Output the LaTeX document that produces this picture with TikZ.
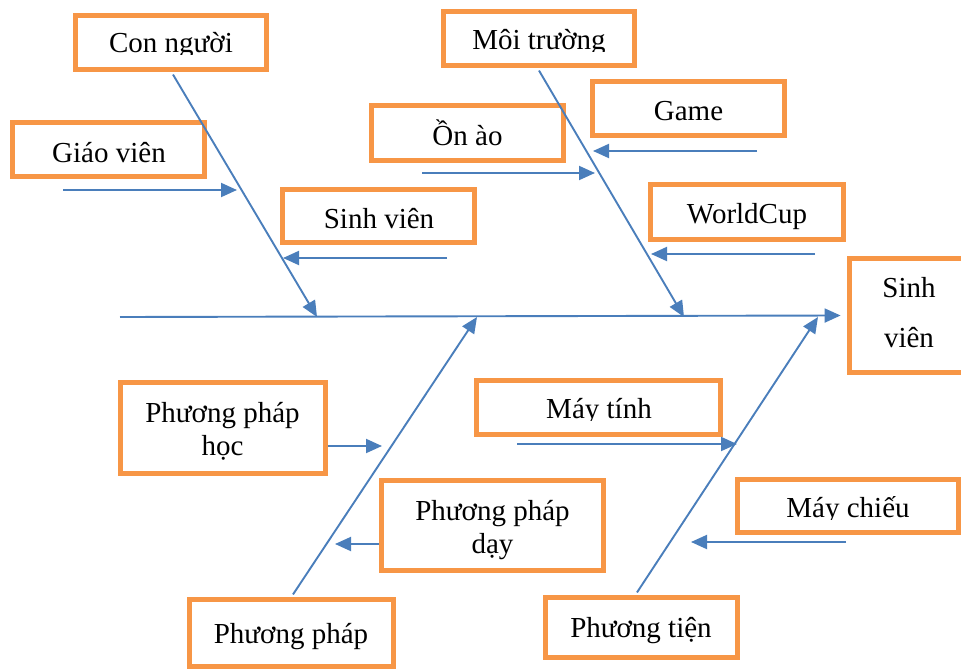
\documentclass[tikz,border=0pt]{standalone}
\usepackage{fontspec}
\setmainfont{Liberation Serif}
\usetikzlibrary{arrows.meta,calc}
\definecolor{boneblue}{RGB}{74,126,187}
\definecolor{boxorange}{RGB}{247,150,70}
\begin{document}
\begin{tikzpicture}[x=1pt,y=-1pt,
  box/.style={draw=boxorange, line width=4.8pt, inner sep=0pt},
  lbl/.style={anchor=base, inner sep=0pt, font=\fontsize{29}{33}\selectfont},
  bone/.style={draw=boneblue, line width=1.9pt, -{Triangle[length=16pt,width=14pt]}},
]
\useasboundingbox (0,0) rectangle (961,669);

% cause boxes
\node[box, minimum width=191.5pt, minimum height=54.5pt] (con)   at (171,42.5)  {};
\node[box, minimum width=192.5pt, minimum height=54.5pt] (giao)  at (108.5,149.5) {};
\node[box, minimum width=192.5pt, minimum height=53.5pt] (svsub) at (378.5,216) {};
\node[box, minimum width=192.5pt, minimum height=55.5pt] (onao)  at (467.5,133) {};
\node[box, minimum width=191.5pt, minimum height=54.5pt] (moi)   at (539,38.5)  {};
\node[box, minimum width=192.5pt, minimum height=54.5pt] (game)  at (688.5,108.5) {};
\node[box, minimum width=193.5pt, minimum height=55.5pt] (world) at (747,212) {};
\node[box, minimum width=114.5pt, minimum height=114.5pt] (head) at (906.5,315.5) {};
\node[box, minimum width=205.5pt, minimum height=91.5pt] (pphoc) at (223,428) {};
\node[box, minimum width=244.5pt, minimum height=54.5pt] (maytinh) at (598.5,407.5) {};
\node[box, minimum width=222.5pt, minimum height=90.5pt] (ppday) at (492.5,525.5) {};
\node[box, minimum width=204.5pt, minimum height=67.5pt] (pp)    at (291.5,633) {};
\node[box, minimum width=192.5pt, minimum height=60.5pt] (ptien) at (641.5,627.5) {};
\node[box, minimum width=221.5pt, minimum height=53.5pt] (maychieu) at (848,506) {};

% labels (some are cut off just below the baseline by their box)
\begin{scope}
  \clip (73,0) rectangle (269,55);
  \node[lbl] (t-con) at (171,53) {Con người};
\end{scope}
\begin{scope}
  \clip (441,0) rectangle (637,52);
  \node[lbl] (t-moi) at (539,50) {Môi trường};
\end{scope}
\begin{scope}
  \clip (474,370) rectangle (723,420);
  \node[lbl] (t-maytinh) at (599,418) {Máy tính};
\end{scope}
\begin{scope}
  \clip (735,470) rectangle (961,519.5);
  \node[lbl] (t-maychieu) at (848,517) {Máy chiếu};
\end{scope}
\node[lbl] (t-giao)  at (109,162) {Giáo viên};
\node[lbl] (t-svsub) at (379,228) {Sinh viên};
\node[lbl] (t-onao)  at (467.5,145) {Ồn ào};
\node[lbl] (t-game)  at (688.5,120) {Game};
\node[lbl] (t-world) at (747,223) {WorldCup};
\node[lbl] (t-head1) at (909,297) {Sinh};
\node[lbl] (t-head2) at (909,347) {viên};
\node[lbl] (t-pphoc1) at (222.5,422) {Phương pháp};
\node[lbl] (t-pphoc2) at (222.5,455) {học};
\node[lbl] (t-ppday1) at (492.5,520) {Phương pháp};
\node[lbl] (t-ppday2) at (492.5,553) {dạy};
\node[lbl] (t-pp)    at (291,643) {Phương pháp};
\node[lbl] (t-ptien) at (641,637) {Phương tiện};

% spine and main bones
\coordinate (tail) at (120,317);
\coordinate (b-con) at (317,317);
\coordinate (b-moi) at (684,317);
\coordinate (b-pp) at (477,317);
\coordinate (b-ptien) at (818,317);
\draw[bone] (tail) -- ($(head.west)+(-6.25,0)$);
\draw[bone] ($(con.south)+(2,2.4)$) -- (b-con);
\draw[bone] ($(moi.south)+(0,2.4)$) -- (b-moi);
\draw[bone] ($(pp.north)+(1.5,-2.4)$) -- (b-pp);
\draw[bone] ($(ptien.north)+(-4.5,-2.4)$) -- (b-ptien);

% sub-cause arrows
\coordinate (gv-s) at (63,190);   \coordinate (gv-t) at (237,190);
\coordinate (sv-s) at (447,258);  \coordinate (sv-t) at (283,258);
\coordinate (oa-s) at (422,173);  \coordinate (oa-t) at (595,173);
\coordinate (gm-s) at (757,151);  \coordinate (gm-t) at (593,151);
\coordinate (wc-s) at (815,254);  \coordinate (wc-t) at (651,254);
\coordinate (ph-s) at (328,446);  \coordinate (ph-t) at (382,446);
\coordinate (pd-s) at (379,544);  \coordinate (pd-t) at (335,544);
\coordinate (mt-s) at (517,444);  \coordinate (mt-t) at (737,444);
\coordinate (mc-s) at (846,542);  \coordinate (mc-t) at (691,542);
\foreach \a in {gv,sv,oa,gm,wc,ph,pd,mt,mc}
  \draw[bone] (\a-s) -- (\a-t);
\end{tikzpicture}
\end{document}
